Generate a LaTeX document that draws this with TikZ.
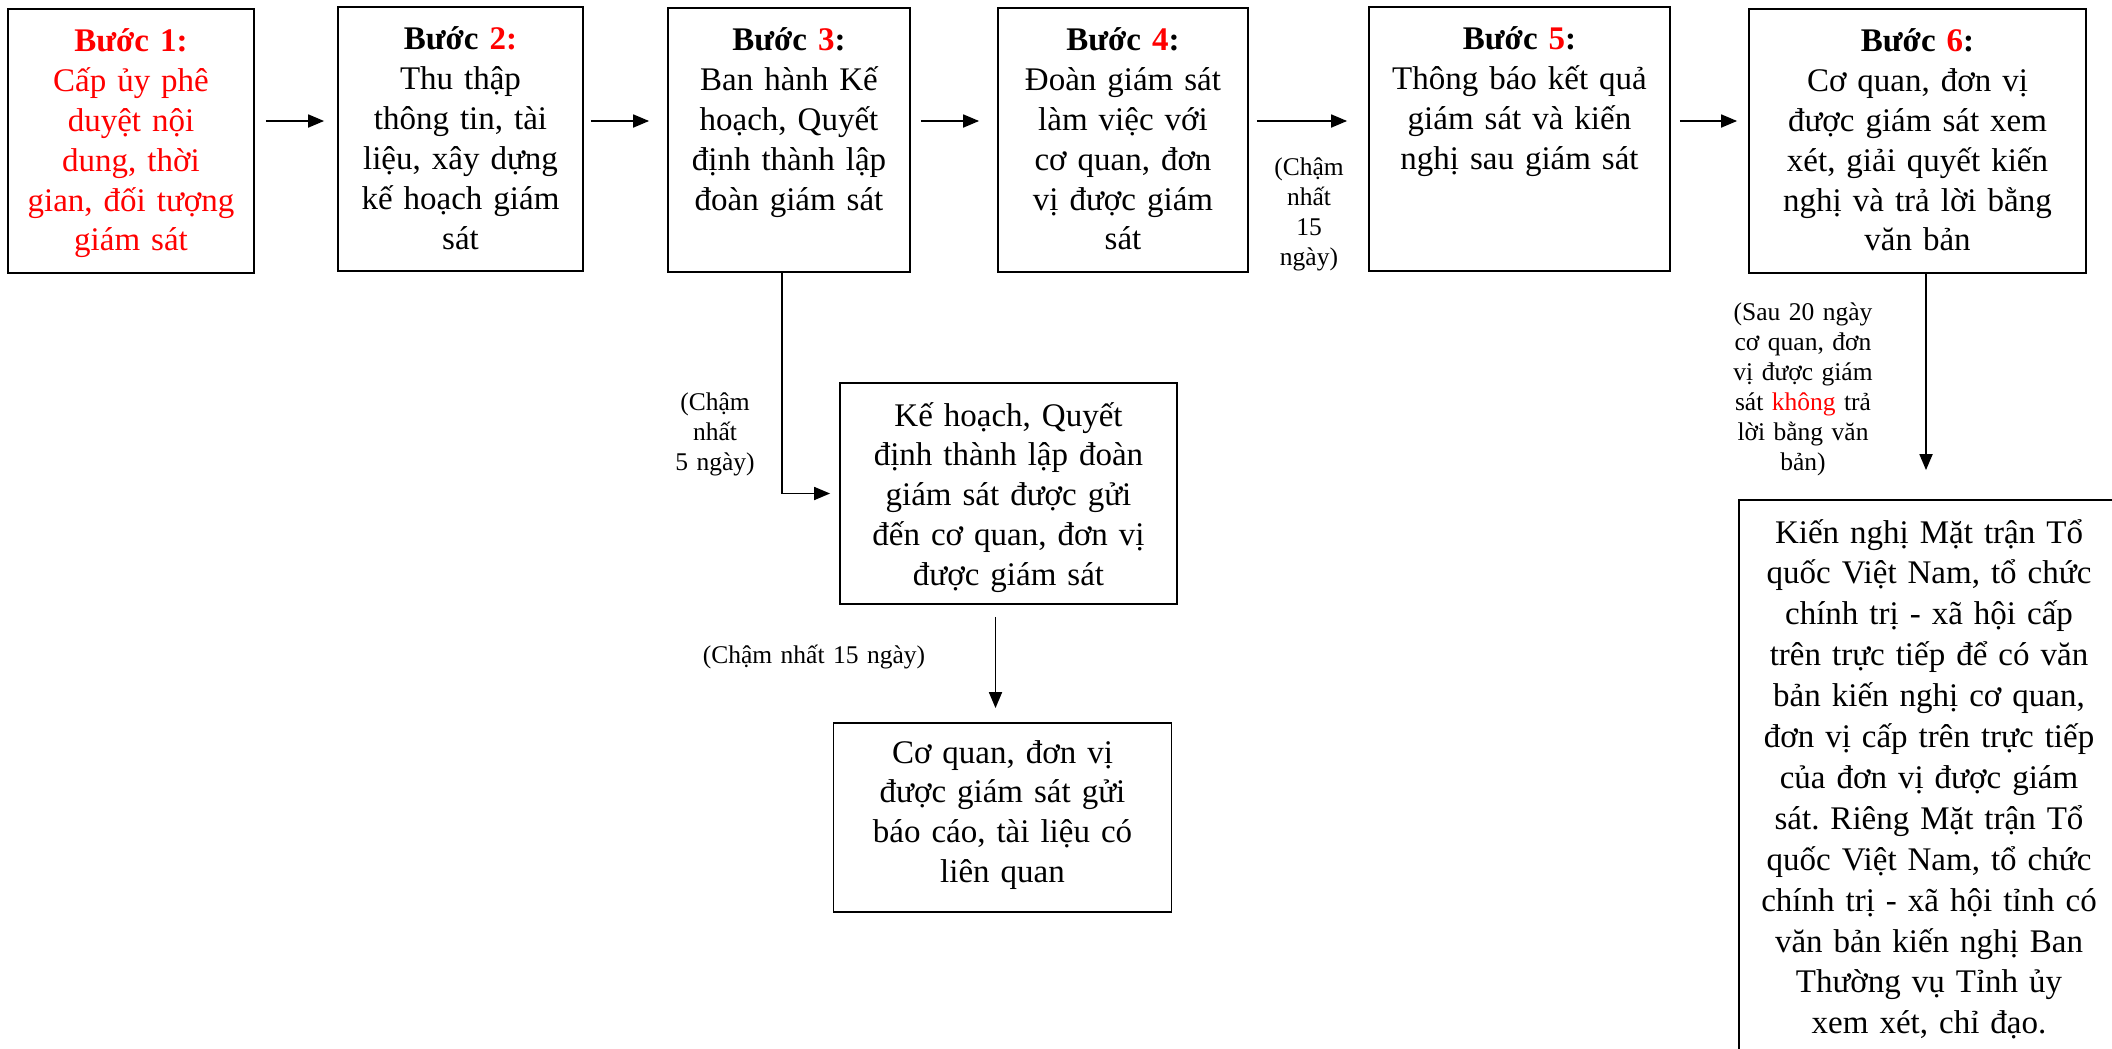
\documentclass[tikz,border=0pt]{standalone}
\usepackage{fontspec}
\setmainfont{Liberation Serif}
\usetikzlibrary{arrows.meta,positioning}
\frenchspacing

\begin{document}
\begin{tikzpicture}[x=1pt,y=-1pt,
    box/.style={draw,line width=1.8pt,inner sep=0pt},
    txt/.style={anchor=base,align=center,inner sep=0pt,font=\fontsize{33}{39.8}\selectfont},
    note/.style={anchor=base,align=center,inner sep=0pt,text width=180pt,font=\fontsize{25.5}{30}\selectfont},
    arr/.style={line width=1.8pt,-{Triangle[length=16pt,width=13pt]}}]
    \def\h{264}
    \useasboundingbox (0,0) rectangle (2112,1049);
    \clip (0,0) rectangle (2112,1049);

    % the six steps
    \node[box,minimum width=246pt,minimum height=\h pt] (s1) at (131,141) {};
    \node[box,minimum width=245pt,minimum height=\h pt] (s2) at (460.5,139) {};
    \node[box,minimum width=242pt,minimum height=\h pt] (s3) at (789,140) {};
    \node[box,minimum width=250pt,minimum height=\h pt] (s4) at (1123,140) {};
    \node[box,minimum width=301pt,minimum height=\h pt] (s5) at (1519.5,139) {};
    \node[box,minimum width=337pt,minimum height=\h pt] (s6) at (1917.5,141) {};

    \node[txt,text=red,text width=238pt] (t1) at (131,52) {\textbf{Bước 1:}\\Cấp ủy phê\\duyệt nội\\dung, thời\\gian, đối tượng\\giám sát};
    \node[txt,text width=238pt] (t2) at (460.5,50) {\textbf{Bước \textcolor{red}{2:}}\\Thu thập\\thông tin, tài\\liệu, xây dựng\\kế hoạch giám\\sát};
    \node[txt,text width=236pt] (t3) at (789,51) {\textbf{Bước \textcolor{red}{3}:}\\Ban hành Kế\\hoạch, Quyết\\định thành lập\\đoàn giám sát};
    \node[txt,text width=242pt] (t4) at (1123,51) {\textbf{Bước \textcolor{red}{4}:}\\Đoàn giám sát\\làm việc với\\cơ quan, đơn\\vị được giám\\sát};
    \node[txt,text width=295pt] (t5) at (1519.5,50) {\textbf{Bước \textcolor{red}{5}:}\\Thông báo kết quả\\giám sát và kiến\\nghị sau giám sát};
    \node[txt,text width=330pt] (t6) at (1917.5,52) {\textbf{Bước \textcolor{red}{6}:}\\Cơ quan, đơn vị\\được giám sát xem\\xét, giải quyết kiến\\nghị và trả lời bằng\\văn bản};

    % boxes below
    \node[box,minimum width=337pt,minimum height=221pt] (s3b) at (1008.5,493.5) {};
    \node[box,minimum width=338pt,minimum height=189pt] (s3c) at (1002.5,817.5) {};
    \node[box,minimum width=381pt,minimum height=570pt] (s7) at (1929.5,785) {};

    \node[txt,text width=330pt] (t3b) at (1008.5,426) {Kế hoạch, Quyết\\định thành lập đoàn\\giám sát được gửi\\đến cơ quan, đơn vị\\được giám sát};
    \node[txt,text width=330pt] (t3c) at (1002.5,763) {Cơ quan, đơn vị\\được giám sát gửi\\báo cáo, tài liệu có\\liên quan};
    \node[txt,text width=370pt,font=\fontsize{33}{40.9}\selectfont] (t7) at (1929,543) {Kiến nghị Mặt trận Tổ\\quốc Việt Nam, tổ chức\\chính trị - xã hội cấp\\trên trực tiếp để có văn\\bản kiến nghị cơ quan,\\đơn vị cấp trên trực tiếp\\của đơn vị được giám\\sát. Riêng Mặt trận Tổ\\quốc Việt Nam, tổ chức\\chính trị - xã hội tỉnh có\\văn bản kiến nghị Ban\\Thường vụ Tỉnh ủy\\xem xét, chỉ đạo.};

    % time notes
    \node[note] (n4) at (1309,175) {(Chậm\\nhất\\15\\ngày)};
    \node[note] (n3) at (715,410) {(Chậm\\nhất\\5 ngày)};
    \node[note,text width=260pt] (n3b) at (814,663) {(Chậm nhất 15 ngày)};
    \node[note] (n6) at (1803,320) {(Sau 20 ngày\\cơ quan, đơn\\vị được giám\\sát \textcolor{red}{không} trả\\lời bằng văn\\bản)};

    \coordinate (row) at (0,121);
    \draw[arr,shorten <=11pt,shorten >=13pt] (s1.east |- row) -- (s2.west |- row);
    \draw[arr,shorten <=7pt,shorten >=18pt] (s2.east |- row) -- (s3.west |- row);
    \draw[arr,shorten <=10pt,shorten >=18pt] (s3.east |- row) -- (s4.west |- row);
    \draw[arr,shorten <=8pt,shorten >=21pt] (s4.east |- row) -- (s5.west |- row);
    \draw[arr,shorten <=9pt,shorten >=11pt] (s5.east |- row) -- (s6.west |- row);

    \draw[arr,shorten >=9pt] ([xshift=-7pt]s3.south) |- (s3b.west);
    \draw[arr,shorten <=12pt,shorten >=14pt] ([xshift=-13pt]s3b.south) -- ([xshift=-13pt]s3b.south |- s3c.north);
    \draw[arr,shorten >=29pt] ([xshift=8.5pt]s6.south) -- ([xshift=8.5pt]s6.south |- s7.north);
\end{tikzpicture}
\end{document}
